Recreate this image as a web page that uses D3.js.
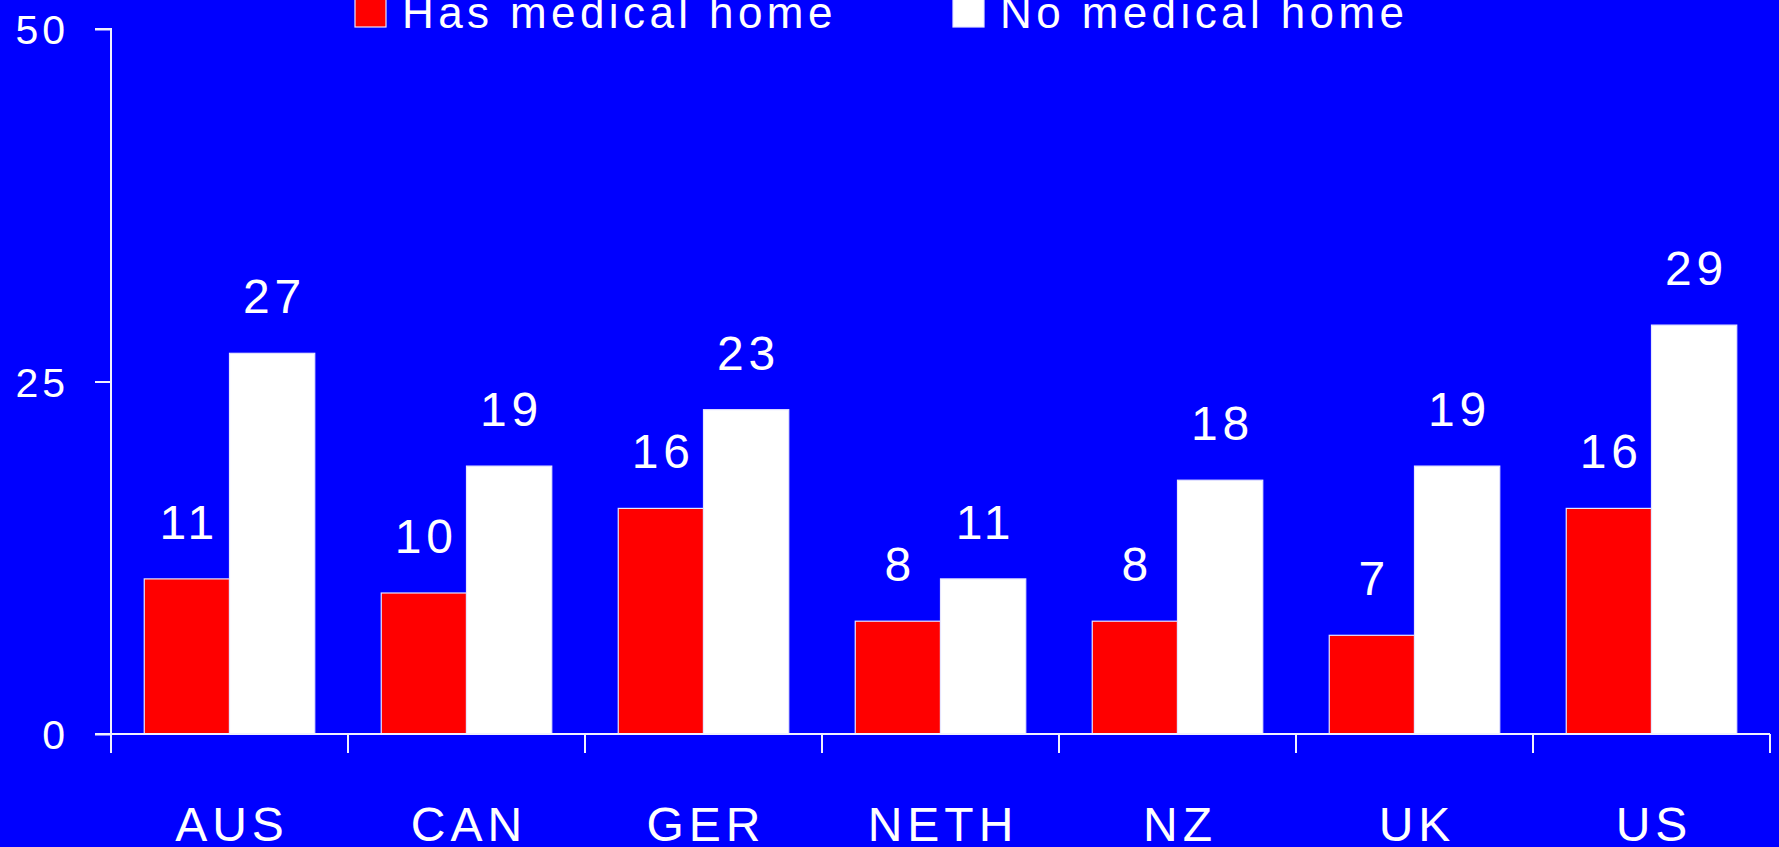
<!DOCTYPE html>
<html><head><meta charset="utf-8">
<script src="https://cdn.jsdelivr.net/npm/d3@7"></script>
<style>
html,body{margin:0;padding:0;background:#0000ff;overflow:hidden;}
text{font-family:"Liberation Sans",Arial,sans-serif;fill:#fff;}
</style></head>
<body><svg id="c" width="1779" height="847"></svg>
<script>
const categories = ["AUS","CAN","GER","NETH","NZ","UK","US"];
const seriesNames = ["Has medical home","No medical home"];
const hasHome = [11,10,16,8,8,7,16];
const noHome = [27,19,23,11,18,19,29];
const yTicks = [0,25,50];

const colors = ["#ff0000","#ffffff"];
const svg = d3.select("#c");
svg.append("rect").attr("width",1779).attr("height",847).attr("fill","#0000ff");

const x0 = d3.scaleBand().domain(categories).range([111,1770]).paddingInner(0).paddingOuter(0);
const x1 = d3.scaleBand().domain(seriesNames).range([0,x0.bandwidth()]).paddingInner(0).paddingOuter(0.39);
const y = d3.scaleLinear().domain([0,50]).range([734,29]);

const rows = categories.map((c,i)=>({cat:c, vals:[hasHome[i],noHome[i]]}));

// bars
const g = svg.append("g");
rows.forEach(r=>{
  r.vals.forEach((v,j)=>{
    g.append("rect")
      .attr("x",x0(r.cat)+x1(seriesNames[j]))
      .attr("y",y(v))
      .attr("width",x1.bandwidth())
      .attr("height",y(0)-y(v))
      .attr("fill",colors[j])
      .attr("stroke","#e6e6ff").attr("stroke-width",1.2);
    g.append("text")
      .attr("x",x0(r.cat)+x1(seriesNames[j])+x1.bandwidth()/2+2.5)
      .attr("y",y(v)-40)
      .attr("text-anchor","middle")
      .attr("font-size",48).attr("letter-spacing",5)
      .text(v);
  });
});

// y axis
const yAxis = d3.axisLeft(y).tickValues(yTicks).tickSize(16).tickPadding(26);
const ya = svg.append("g").attr("transform","translate(111,0)").call(yAxis);
ya.select(".domain").attr("stroke","#f0f0ff").attr("stroke-width",2).attr("d","M-16,"+y(50)+"H0V"+y(0)+"H-16");
ya.selectAll(".tick line").attr("stroke","#f0f0ff").attr("stroke-width",2);
ya.selectAll(".tick text").attr("fill","#fff").attr("font-size",41).attr("letter-spacing",4)
  .attr("font-family","Liberation Sans, Arial, sans-serif").attr("dy","0.36em");

// x axis
const xAxis = d3.axisBottom(x0).tickSize(0).tickPadding(0);
const xa = svg.append("g").attr("transform","translate(0,"+y(0)+")").call(xAxis);
xa.select(".domain").attr("stroke","#f0f0ff").attr("stroke-width",2).attr("d","M111,0H1770");
xa.selectAll(".tick text").attr("fill","#fff").attr("font-size",48).attr("letter-spacing",5)
  .attr("font-family","Liberation Sans, Arial, sans-serif").attr("y",107).attr("dy",0).attr("dx",2.5);
// category boundary ticks
const bounds = categories.map(c=>x0(c)).concat([x0(categories[categories.length-1])+x0.bandwidth()]);
svg.append("g").selectAll("line").data(bounds).join("line")
  .attr("x1",d=>d).attr("x2",d=>d).attr("y1",y(0)).attr("y2",y(0)+19)
  .attr("stroke","#f0f0ff").attr("stroke-width",2);

// legend
const legX = [355,953];
const leg = svg.append("g");
seriesNames.forEach((s,j)=>{
  leg.append("rect").attr("x",legX[j]).attr("y",-4).attr("width",31).attr("height",31)
    .attr("fill",colors[j]).attr("stroke","#e6e6ff").attr("stroke-width",1.2);
  leg.append("text").attr("x",legX[j]+47).attr("y",28)
    .attr("font-size",44).attr("letter-spacing",4.4).text(s);
});
</script></body></html>
